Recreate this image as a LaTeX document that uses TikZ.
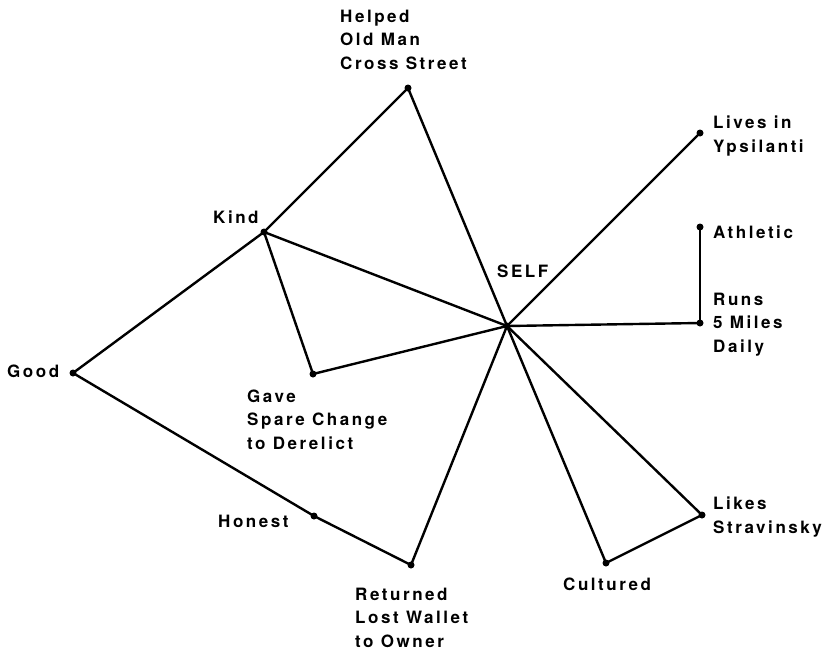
\documentclass[tikz,border=0pt]{standalone}
\usepackage{fontspec}
\setmainfont{TeX Gyre Heros}[LetterSpace=15]
\begin{document}
\begin{tikzpicture}[x=1pt,y=-1pt,
  dot/.style={circle,fill=black,inner sep=0pt,minimum size=7pt},
  lbl/.style={anchor=base west,inner sep=0pt,align=left,font=\fontsize{17}{23.5}\selectfont\bfseries},
  link/.style={line width=2.4pt,line cap=round}]
\useasboundingbox[fill=white] (0,0) rectangle (826,651);
% points
\node[dot] (self) at (507,326) {};
\node[dot] (helped) at (408,88) {};
\node[dot] (kind) at (264,232) {};
\node[dot] (good) at (73,373) {};
\node[dot] (gave) at (313,374) {};
\node[dot] (honest) at (314,516) {};
\node[dot] (returned) at (411,565) {};
\node[dot] (cultured) at (606,563) {};
\node[dot] (likes) at (702,515) {};
\node[dot] (runs) at (700,323) {};
\node[dot] (athletic) at (700,227) {};
\node[dot] (lives) at (700,133) {};
% labels (base anchor = baseline of the last line)
\node[lbl] (t-helped) at (340,69) {Helped\\Old Man\\Cross Street};
\node[lbl] (t-kind) at (213,223) {Kind};
\node[lbl] (t-good) at (7,377) {Good};
\node[lbl] (t-gave) at (247,449) {Gave\\Spare Change\\to Derelict};
\node[lbl] (t-honest) at (218,527) {Honest};
\node[lbl] (t-returned) at (355,647) {Returned\\Lost Wallet\\to Owner};
\node[lbl] (t-cultured) at (563,590) {Cultured};
\node[lbl] (t-likes) at (713,533) {Likes\\Stravinsky};
\node[lbl] (t-self) at (497,277) {SELF};
\node[lbl] (t-lives) at (713,152) {Lives in\\Ypsilanti};
\node[lbl] (t-athletic) at (713,238) {Athletic};
\node[lbl] (t-runs) at (713,352) {Runs\\5 Miles\\Daily};
% links
\draw[link] (kind.center) -- (helped.center);
\draw[link] (helped.center) -- (self.center);
\draw[link] (kind.center) -- (self.center);
\draw[link] (kind.center) -- (gave.center);
\draw[link] (gave.center) -- (self.center);
\draw[link] (good.center) -- (kind.center);
\draw[link] (good.center) -- (honest.center);
\draw[link] (honest.center) -- (returned.center);
\draw[link] (returned.center) -- (self.center);
\draw[link] (self.center) -- (cultured.center);
\draw[link] (cultured.center) -- (likes.center);
\draw[link] (likes.center) -- (self.center);
\draw[link] (self.center) -- (runs.center);
\draw[link] (runs.center) -- (athletic.center);
\draw[link] (self.center) -- (lives.center);
\end{tikzpicture}
\end{document}
